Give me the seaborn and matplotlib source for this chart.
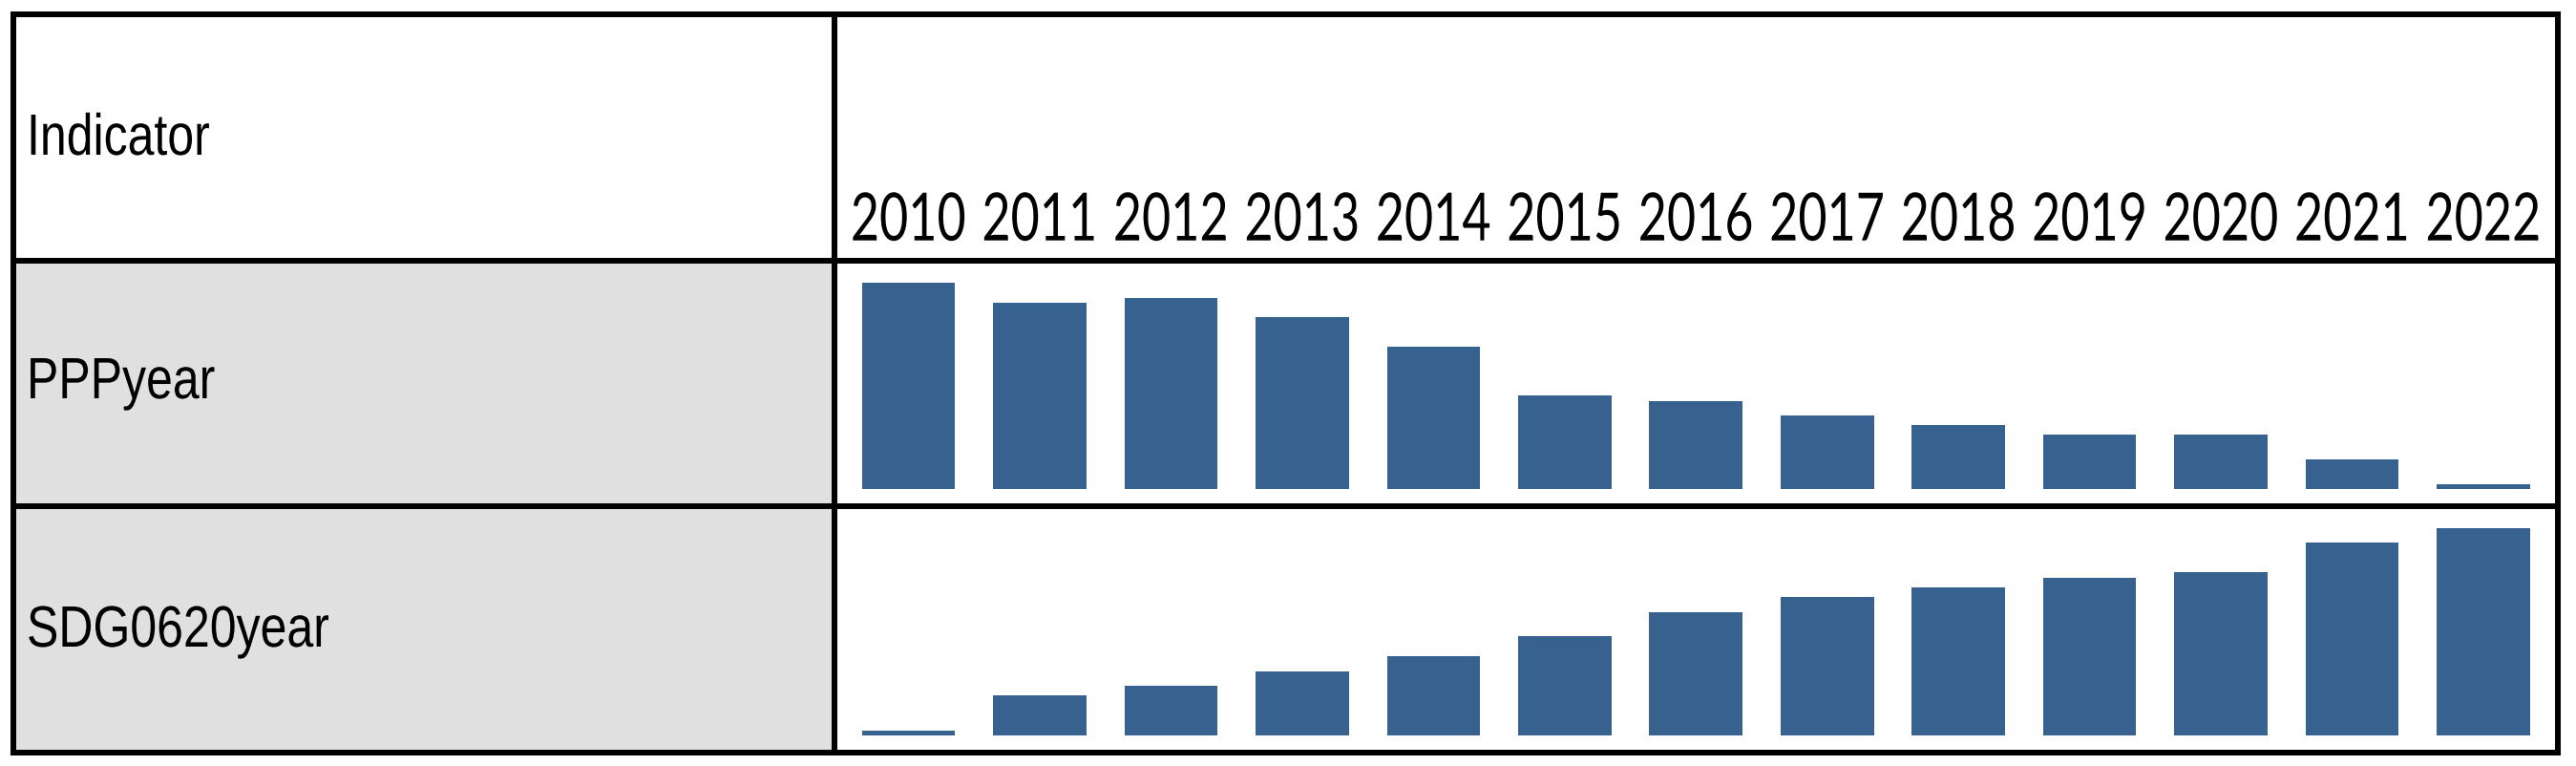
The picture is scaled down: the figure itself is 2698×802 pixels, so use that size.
import numpy as np
import pandas as pd
import matplotlib
matplotlib.use("Agg")
import matplotlib.pyplot as plt
import matplotlib.transforms as mtransforms
from matplotlib.patches import Rectangle
from matplotlib.patheffects import AbstractPathEffect
import seaborn as sns

# data (sparkline heights)
years = ["2010", "2011", "2012", "2013", "2014", "2015", "2016",
         "2017", "2018", "2019", "2020", "2021", "2022"]
indicators = ["PPPyear", "SDG0620year"]
ppp_values = [216, 195, 200, 180, 149, 98, 92, 77, 67, 57, 57, 31, 5]
sdg_values = [5, 42, 52, 67, 83, 104, 129, 145, 155, 165, 171, 202, 217]

W, H = 2698, 802
bar_color = "#37618F"
grey = "#E0E0E0"


class Stretch(AbstractPathEffect):
    # reshape glyphs (no narrow font installed), baseline stays put
    def __init__(self, sx=1.0, sy=1.0, anchor="left"):
        super().__init__()
        self.sx, self.sy = sx, sy
        self.anchor = anchor

    def draw_path(self, renderer, gc, tpath, affine, rgbFace=None):
        cx = 0
        if self.anchor == "center":
            ext = tpath.get_extents()
            cx = (ext.x0 + ext.x1) / 2
        pre = mtransforms.Affine2D().translate(-cx, 0).scale(self.sx, self.sy).translate(cx, 0)
        renderer.draw_path(gc, tpath, pre + affine, rgbFace)


sns.set_style("white")
fig = plt.figure(figsize=(W / 100, H / 100), dpi=100)

# table drawn in pixel space
bg = fig.add_axes([0, 0, 1, 1], zorder=0)
bg.set_xlim(0, W); bg.set_ylim(H, 0); bg.axis("off")
left, right, top, bottom = 13.5, 2679, 14.5, 788
div_x, head_y, sep_y = 873.5, 272.5, 530
bg.add_patch(Rectangle((left, head_y), div_x - left, bottom - head_y,
                       facecolor=grey, edgecolor="none"))
lw = 4.3
bg.add_patch(Rectangle((left, top), right - left, bottom - top, fill=False,
                       edgecolor="black", linewidth=lw, joinstyle="miter"))
bg.plot([div_x, div_x], [top, bottom], color="black", lw=lw)
bg.plot([left, right], [head_y, head_y], color="black", lw=lw)
bg.plot([left, right], [sep_y, sep_y], color="black", lw=lw)

label_kw = dict(family="Liberation Sans", fontsize=36, color="black",
                va="baseline", ha="left", path_effects=[Stretch(1.0, 1.22)])
bg.text(28, 162, "Indicator", **label_kw)
bg.text(28, 417, indicators[0], **label_kw)
bg.text(28, 677, indicators[1], **label_kw)

# sparkline axes: x from first bar edge to last, y from baseline to tallest bar
x0, x1 = 882.75, 2669.75
rows = [(ppp_values, 511.7, 295.7), (sdg_values, 770, 553)]
axes = []
for vals, base, peak in rows:
    ax = fig.add_axes([x0 / W, 1 - base / H, (x1 - x0) / W, (base - peak) / H], zorder=1)
    df = pd.DataFrame({"year": years, "value": vals})
    sns.barplot(data=df, x="year", y="value", ax=ax, color=bar_color,
                saturation=1, width=0.71, linewidth=0)
    ax.set_xlim(-0.5, len(years) - 0.5)
    ax.set_ylim(0, max(vals))
    ax.patch.set_alpha(0)
    ax.axis("off")
    axes.append(ax)

# year header labels centred over the bars
trans = mtransforms.blended_transform_factory(axes[0].transData, fig.transFigure)
for i, y in enumerate(years):
    axes[0].text(i, 1 - 251.7 / H, y, transform=trans, family="Lato",
                 fontsize=37.5, color="black", ha="center", va="baseline",
                 clip_on=False, path_effects=[Stretch(1.0, 1.337, "center")])

fig.savefig("out.png", dpi=100)
